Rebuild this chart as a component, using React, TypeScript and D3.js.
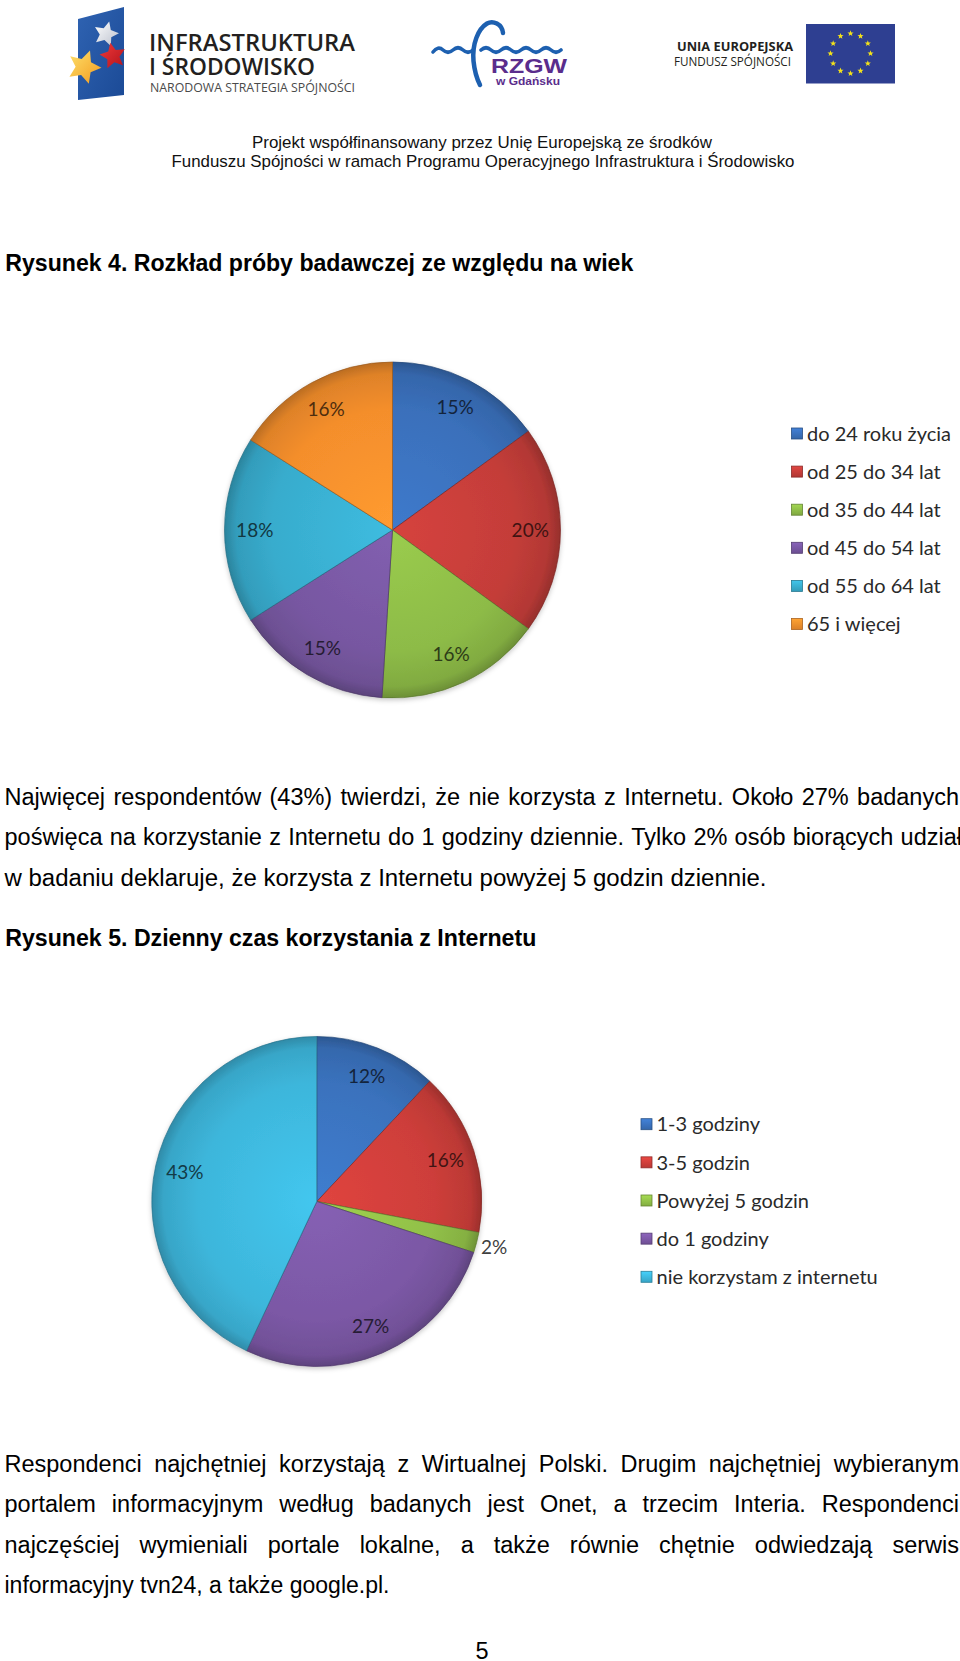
import React, { useLayoutEffect, useRef } from "react";
import * as d3 from "d3";

// ---------------- data ----------------
const ageCategories = [
  "do 24 roku życia",
  "od 25 do 34 lat",
  "od 35 do 44 lat",
  "od 45 do 54 lat",
  "od 55 do 64 lat",
  "65 i więcej",
];
const ageValues = [15, 20, 16, 15, 18, 16];
const ageColors = ["#3a70bb", "#c43d39", "#8dbb47", "#7757a1", "#38accd", "#f48e2c"];

const timeCategories = [
  "1-3 godziny",
  "3-5 godzin",
  "Powyżej 5 godzin",
  "do 1 godziny",
  "nie korzystam z internetu",
];
const timeValues = [12, 16, 2, 27, 43];
const timeColors = ["#3a72bd", "#cd3e3a", "#91c048", "#7b58a5", "#3db6db"];
const timeOutsideLabels = [2];

const headerLines = [
  "Projekt współfinansowany przez Unię Europejską ze środków",
  "Funduszu Spójności w ramach Programu Operacyjnego Infrastruktura i Środowisko",
];
const figure4Title = "Rysunek 4. Rozkład próby badawczej ze względu na wiek";
const figure5Title = "Rysunek 5. Dzienny czas korzystania z Internetu";
const paragraph1 = [
  "Najwięcej respondentów (43%) twierdzi, że nie korzysta z Internetu. Około 27% badanych",
  "poświęca na korzystanie z Internetu do 1 godziny dziennie. Tylko 2% osób biorących udział",
  "w badaniu deklaruje, że korzysta z Internetu powyżej 5 godzin dziennie.",
];
const paragraph2 = [
  "Respondenci najchętniej korzystają z Wirtualnej Polski. Drugim najchętniej wybieranym",
  "portalem informacyjnym według badanych jest Onet, a trzecim Interia. Respondenci",
  "najczęściej wymieniali portale lokalne, a także równie chętnie odwiedzają serwis",
  "informacyjny tvn24, a także google.pl.",
];
const pageNumber = "5";

// ---------------- styles ----------------
const BODY_FONT = "'Liberation Sans', Arial, sans-serif";
const CHART_FONT = "Lato, 'Open Sans', sans-serif";
const LOGO_FONT = "'Open Sans', 'Noto Sans', sans-serif";
const BODY_SIZE = 23.5;
const TEXT_LEFT = 4.5;
const TEXT_RIGHT = 959;
const LINE_STEP = 40.3;

function starPoints(cx: number, cy: number, R: number, rot = 0, ratio = 0.48) {
  const pts: string[] = [];
  for (let i = 0; i < 10; i++) {
    const rr = i % 2 === 0 ? R : R * ratio;
    const a = rot + (i * Math.PI) / 5 - Math.PI / 2;
    pts.push(`${(cx + rr * Math.cos(a)).toFixed(2)},${(cy + rr * Math.sin(a)).toFixed(2)}`);
  }
  return pts.join(" ");
}

// ---------------- pie ----------------
type PieProps = {
  id: string;
  cx: number;
  cy: number;
  r: number;
  values: number[];
  colors: string[];
  outside?: number[];
};

function PieChart({ id, cx, cy, r, values, colors, outside = [] }: PieProps) {
  const pie = d3.pie<number>().sort(null).value((d) => d);
  const arcs = pie(values);
  const arc = d3.arc<d3.PieArcDatum<number>>().innerRadius(0).outerRadius(r);
  const inLabel = d3.arc<d3.PieArcDatum<number>>().innerRadius(r * 0.82).outerRadius(r * 0.82);
  const outLabel = d3.arc<d3.PieArcDatum<number>>().innerRadius(r * 1.11).outerRadius(r * 1.11);
  return (
    <g transform={`translate(${cx},${cy})`}>
      <defs>
        {colors.map((c, i) => (
          <radialGradient key={i} id={`${id}-g${i}`} gradientUnits="userSpaceOnUse" cx={0} cy={0} r={r}>
            <stop offset="0%" stopColor={d3.color(c)!.brighter(0.25).formatHex()} />
            <stop offset="72%" stopColor={c} />
            <stop offset="93%" stopColor={d3.color(c)!.darker(0.25).formatHex()} />
            <stop offset="100%" stopColor={d3.color(c)!.darker(0.75).formatHex()} />
          </radialGradient>
        ))}
        <filter id={`${id}-shadow`} x="-20%" y="-20%" width="140%" height="140%">
          <feDropShadow dx="0" dy="2" stdDeviation="2.5" floodColor="#000" floodOpacity="0.22" />
        </filter>
      </defs>
      <g filter={`url(#${id}-shadow)`}>
        {arcs.map((a, i) => (
          <path
            key={i}
            d={arc(a)!}
            fill={`url(#${id}-g${i})`}
            stroke={d3.color(colors[i])!.darker(1.3).formatHex()}
            strokeOpacity={0.75}
            strokeWidth={0.9}
            strokeLinejoin="round"
          />
        ))}
      </g>
      {arcs.map((a, i) => {
        const isOut = outside.includes(i);
        const [x, y] = (isOut ? outLabel : inLabel).centroid(a);
        return (
          <text
            key={i}
            x={x}
            y={y}
            dy="0.36em"
            textAnchor="middle"
            fontFamily={CHART_FONT}
            fontSize={19}
            fill={isOut ? "#404040" : d3.color(colors[i])!.darker(3.2).formatHex()}
          >
            {`${values[i]}%`}
          </text>
        );
      })}
    </g>
  );
}

type LegendProps = { id: string; x: number; y: number; step: number; items: string[]; colors: string[] };
function Legend({ id, x, y, step, items, colors }: LegendProps) {
  const yScale = d3.scaleLinear().domain([0, 1]).range([y, y + step]);
  return (
    <g>
      <defs>
        {colors.map((c, i) => (
          <linearGradient key={i} id={`${id}-lg${i}`} x1="0" y1="0" x2="0" y2="1">
            <stop offset="0%" stopColor={d3.color(c)!.brighter(0.4).formatHex()} />
            <stop offset="100%" stopColor={d3.color(c)!.darker(0.3).formatHex()} />
          </linearGradient>
        ))}
      </defs>
      {items.map((t, i) => {
        const cy = yScale(i);
        return (
          <g key={i}>
            <rect
              x={x}
              y={cy - 5.5}
              width={11}
              height={11}
              fill={`url(#${id}-lg${i})`}
              stroke={d3.color(colors[i])!.darker(1).formatHex()}
              strokeWidth={0.8}
            />
            <text x={x + 15.5} y={cy} dy="0.36em" fontFamily={CHART_FONT} fontSize={20} fill="#2a2a2a">
              {t}
            </text>
          </g>
        );
      })}
    </g>
  );
}

// ---------------- justified text ----------------
function JustifiedLine({ text, y, right = TEXT_RIGHT }: { text: string; y: number; right?: number }) {
  const ref = useRef<SVGGElement>(null);
  const words = text.split(" ");
  useLayoutEffect(() => {
    if (!ref.current) return;
    const nodes = d3.select(ref.current).selectAll<SVGTextElement, unknown>("text").nodes();
    const widths = nodes.map((n) => n.getComputedTextLength());
    const total = d3.sum(widths);
    const gap = (right - TEXT_LEFT - total) / Math.max(1, nodes.length - 1);
    let x = TEXT_LEFT;
    nodes.forEach((n, i) => {
      n.setAttribute("x", String(x));
      x += widths[i] + gap;
    });
  }, [text, right]);
  return (
    <g ref={ref} fontFamily={BODY_FONT} fontSize={BODY_SIZE} fill="#000">
      {words.map((w, i) => (
        <text key={i} x={TEXT_LEFT} y={y}>
          {w}
        </text>
      ))}
    </g>
  );
}

function LastLine({ text, y, width }: { text: string; y: number; width: number }) {
  return (
    <text
      x={TEXT_LEFT}
      y={y}
      fontFamily={BODY_FONT}
      fontSize={BODY_SIZE}
      textLength={width}
      lengthAdjust="spacingAndGlyphs"
      fill="#000"
    >
      {text}
    </text>
  );
}

// ---------------- header ----------------
function Header() {
  const euStars = d3.range(12).map((i) => {
    const a = (i / 12) * Math.PI * 2;
    return [850.5 + 20 * Math.sin(a), 53.5 - 20 * Math.cos(a)];
  });
  const waveLeft = "M433,52 Q438,45.5 443,50 T453,50 T463,50 T473,50";
  const waveRight = "M481,50 Q486,45.5 491,50 T501,50 T511,50 T521,50 T531,50 T541,50 T551,50 T561,50";
  return (
    <g>
      <defs>
        <linearGradient id="flagBlue" x1="0" y1="0" x2="1" y2="1">
          <stop offset="0%" stopColor="#2f63b2" />
          <stop offset="100%" stopColor="#1b4a96" />
        </linearGradient>
        <linearGradient id="yellowStar" x1="0" y1="0" x2="1" y2="1">
          <stop offset="0%" stopColor="#fde06a" />
          <stop offset="100%" stopColor="#f39a1e" />
        </linearGradient>
        <linearGradient id="whiteStar" x1="0" y1="0" x2="1" y2="1">
          <stop offset="0%" stopColor="#ffffff" />
          <stop offset="100%" stopColor="#b9bfcc" />
        </linearGradient>
        <linearGradient id="redStar" x1="0" y1="0" x2="1" y2="1">
          <stop offset="0%" stopColor="#ee3a3a" />
          <stop offset="100%" stopColor="#b3121b" />
        </linearGradient>
      </defs>
      {/* left logo */}
      <polygon points="78,19 124,7 124,95 78,100" fill="url(#flagBlue)" />
      <polygon points={starPoints(106, 34, 13, 0.25)} fill="url(#whiteStar)" />
      <polygon points={starPoints(113, 56, 13.5, -0.2)} fill="url(#redStar)" />
      <polygon points={starPoints(84, 67, 17.5, 0.35)} fill="url(#yellowStar)" />
      <text x={149} y={50.5} fontFamily={LOGO_FONT} fontWeight={600} fontSize={22.5} fill="#231f20" textLength={206} lengthAdjust="spacingAndGlyphs">
        INFRASTRUKTURA
      </text>
      <text x={149} y={75} fontFamily={LOGO_FONT} fontWeight={600} fontSize={22.5} fill="#231f20" textLength={166} lengthAdjust="spacingAndGlyphs">
        I ŚRODOWISKO
      </text>
      <text x={150} y={92} fontFamily={LOGO_FONT} fontSize={12.5} fill="#4a4a4a" textLength={205} lengthAdjust="spacingAndGlyphs">
        NARODOWA STRATEGIA SPÓJNOŚCI
      </text>

      {/* RZGW logo */}
      <path d={waveLeft} fill="none" stroke="#1d60b0" strokeWidth={3.6} strokeLinecap="round" />
      <path d={waveRight} fill="none" stroke="#1d60b0" strokeWidth={3.6} strokeLinecap="round" />
      <path
        d="M503,33 C502,24 493,20 487,23.5 C478,29 472,44 473.5,61 C474.5,71 477,79 480,85"
        fill="none"
        stroke="#1d60b0"
        strokeWidth={4.5}
        strokeLinecap="round"
      />
      <text x={491} y={72.5} fontFamily={BODY_FONT} fontWeight="bold" fontSize={21} fill="#5a2d8c" textLength={76} lengthAdjust="spacingAndGlyphs">
        RZGW
      </text>
      <text x={496} y={85} fontFamily={BODY_FONT} fontWeight="bold" fontSize={10.5} fill="#5a2d8c" textLength={64} lengthAdjust="spacingAndGlyphs">
        w Gdańsku
      </text>

      {/* EU */}
      <text x={677} y={51} fontFamily={LOGO_FONT} fontWeight="bold" fontSize={12.5} fill="#231f20" textLength={116} lengthAdjust="spacingAndGlyphs">
        UNIA EUROPEJSKA
      </text>
      <text x={674} y={66} fontFamily={LOGO_FONT} fontSize={12.5} fill="#231f20" textLength={117} lengthAdjust="spacingAndGlyphs">
        FUNDUSZ SPÓJNOŚCI
      </text>
      <rect x={806} y={24} width={89} height={59.5} fill="#2e3f91" />
      {euStars.map(([sx, sy], i) => (
        <polygon key={i} points={starPoints(sx, sy, 3.2, 0, 0.42)} fill="#f4e21a" />
      ))}

      {/* project lines */}
      <text x={252} y={147.5} fontFamily={BODY_FONT} fontSize={17} fill="#111" textLength={460} lengthAdjust="spacingAndGlyphs">
        {headerLines[0]}
      </text>
      <text x={171.5} y={166.5} fontFamily={BODY_FONT} fontSize={17} fill="#111" textLength={623} lengthAdjust="spacingAndGlyphs">
        {headerLines[1]}
      </text>
    </g>
  );
}

export default function App() {
  const p1Base = 805;
  const p2Base = 1472;
  return (
    <svg
      width={960}
      height={1661}
      viewBox="0 0 960 1661"
      style={{ position: "absolute", left: 0, top: 0, display: "block", background: "#fff" }}
    >
      <rect x={0} y={0} width={960} height={1661} fill="#fff" />
      <Header />

      <text x={5.3} y={271} fontFamily={BODY_FONT} fontWeight="bold" fontSize={23} textLength={628} lengthAdjust="spacingAndGlyphs">
        {figure4Title}
      </text>

      <PieChart id="pie1" cx={392.5} cy={530} r={168} values={ageValues} colors={ageColors} />
      <Legend id="leg1" x={791.5} y={433.5} step={38.1} items={ageCategories} colors={ageColors} />

      <JustifiedLine text={paragraph1[0]} y={p1Base} />
      <JustifiedLine text={paragraph1[1]} y={p1Base + LINE_STEP} right={962} />
      <LastLine text={paragraph1[2]} y={p1Base + 2 * LINE_STEP} width={762} />

      <text x={5.3} y={946} fontFamily={BODY_FONT} fontWeight="bold" fontSize={23} textLength={531} lengthAdjust="spacingAndGlyphs">
        {figure5Title}
      </text>

      <PieChart id="pie2" cx={316.8} cy={1201.5} r={165} values={timeValues} colors={timeColors} outside={timeOutsideLabels} />
      <Legend id="leg2" x={641} y={1124.2} step={38.15} items={timeCategories} colors={timeColors} />

      {paragraph2.slice(0, 3).map((t, i) => (
        <JustifiedLine key={i} text={t} y={p2Base + i * LINE_STEP} />
      ))}
      <LastLine text={paragraph2[3]} y={p2Base + 3 * LINE_STEP} width={385} />

      <text x={482} y={1658.5} textAnchor="middle" fontFamily={BODY_FONT} fontSize={BODY_SIZE}>
        {pageNumber}
      </text>
    </svg>
  );
}
